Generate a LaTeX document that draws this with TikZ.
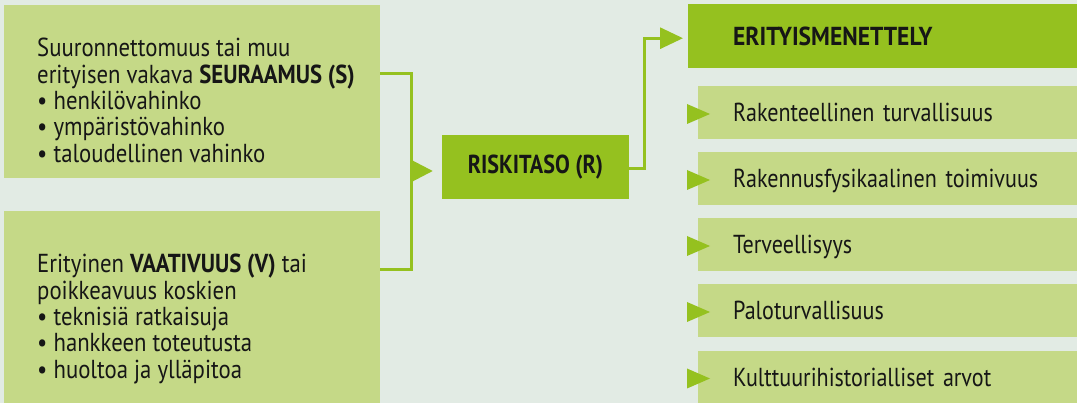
\documentclass[tikz,border=0pt]{standalone}
\usepackage{fontspec}
\setmainfont{PT Sans}[FakeStretch=0.85]
\newfontfamily\leftfont{PT Sans}[FakeStretch=0.875]
\newfontfamily\headfont{PT Sans}[FakeStretch=0.905]
\usetikzlibrary{arrows.meta}
\definecolor{bg}{RGB}{226,235,228}
\definecolor{lightgreen}{RGB}{197,217,135}
\definecolor{strong}{RGB}{149,193,31}
\definecolor{ink}{RGB}{22,22,22}
\begin{document}
\begin{tikzpicture}[x=1pt,y=-1pt,
  box/.style={fill=lightgreen, draw=none, inner sep=0pt, anchor=north west},
  keybox/.style={fill=strong, draw=none, inner sep=0pt, text=ink,
    font=\fontsize{26}{26.4}\selectfont\bfseries},
  txt/.style={font=\leftfont\fontsize{26}{26.4}\selectfont, text=ink, inner sep=0pt,
    anchor=north west, align=left},
  rbox/.style={fill=lightgreen, draw=none, anchor=west, minimum height=53pt,
    text width=322pt, inner xsep=35pt, inner ysep=0pt, align=left,
    text height=18pt, text depth=0pt, text=ink,
    font=\fontsize{26}{26.4}\selectfont},
  conn/.style={draw=strong, line width=3pt},
  bigtip/.style={-{Triangle[length=22pt,width=22pt]}},
  toptip/.style={-{Triangle[length=23pt,width=21pt]}},
]
% canvas
\useasboundingbox (0,0) rectangle (1077,403);
\fill[bg] (0,0) rectangle (1077,403);

% input boxes on the left
\node[box, minimum width=376pt, minimum height=173pt] (sev) at (4,5) {};
\node[txt] (sevtext) at (37,38) {Suuronnettomuus tai muu\\
  erityisen vakava \textbf{SEURAAMUS (S)}\\
  • henkilövahinko\\
  • ympäristövahinko\\
  • taloudellinen vahinko};

\node[box, minimum width=376pt, minimum height=200pt] (dem) at (4,211) {};
\node[txt] (demtext) at (37,254) {Erityinen \textbf{VAATIVUUS (V)} tai\\
  poikkeavuus koskien\\
  • teknisiä ratkaisuja\\
  • hankkeen toteutusta\\
  • huoltoa ja ylläpitoa};

% risk level
\node[keybox, minimum width=187pt, minimum height=64pt] (risk) at (535.5,167) {RISKITASO (R)};

% special procedure header
\node[keybox, anchor=north west, minimum width=400pt, minimum height=64pt,
  text width=355pt, inner xsep=45pt, inner ysep=0pt, align=left,
  text height=18.5pt, text depth=0pt,
  font=\headfont\fontsize{26}{26.4}\selectfont\bfseries] (erit) at (688,4) {ERITYISMENETTELY};

% requirement boxes
\node[rbox] (r1) at (698,113) {Rakenteellinen turvallisuus};
\node[rbox] (r2) at (698,179) {Rakennusfysikaalinen toimivuus};
\node[rbox] (r3) at (698,245) {Terveellisyys};
\node[rbox] (r4) at (698,311) {Paloturvallisuus};
\node[rbox] (r5) at (698,377.5) {Kulttuurihistorialliset arvot};
\foreach \b in {r1,r2,r3,r4,r5}
  \fill[strong] ([shift={(-11,-9)}]\b.west) -- ([shift={(12,1)}]\b.west)
    -- ([shift={(-11,11)}]\b.west) -- cycle;

% connectors
\coordinate (j) at (411,171);
\draw[conn] ([yshift=18.5pt]sev.east) -| (j) |- ([yshift=42pt]dem.east);
\draw[conn, bigtip, shorten >=9pt] (j) -- (j -| risk.west);
\draw[conn, toptip, shorten >=5pt] ([yshift=-2pt]risk.east) -- ++(15,0) |- ([yshift=-2pt]erit.west);
\end{tikzpicture}
\end{document}
